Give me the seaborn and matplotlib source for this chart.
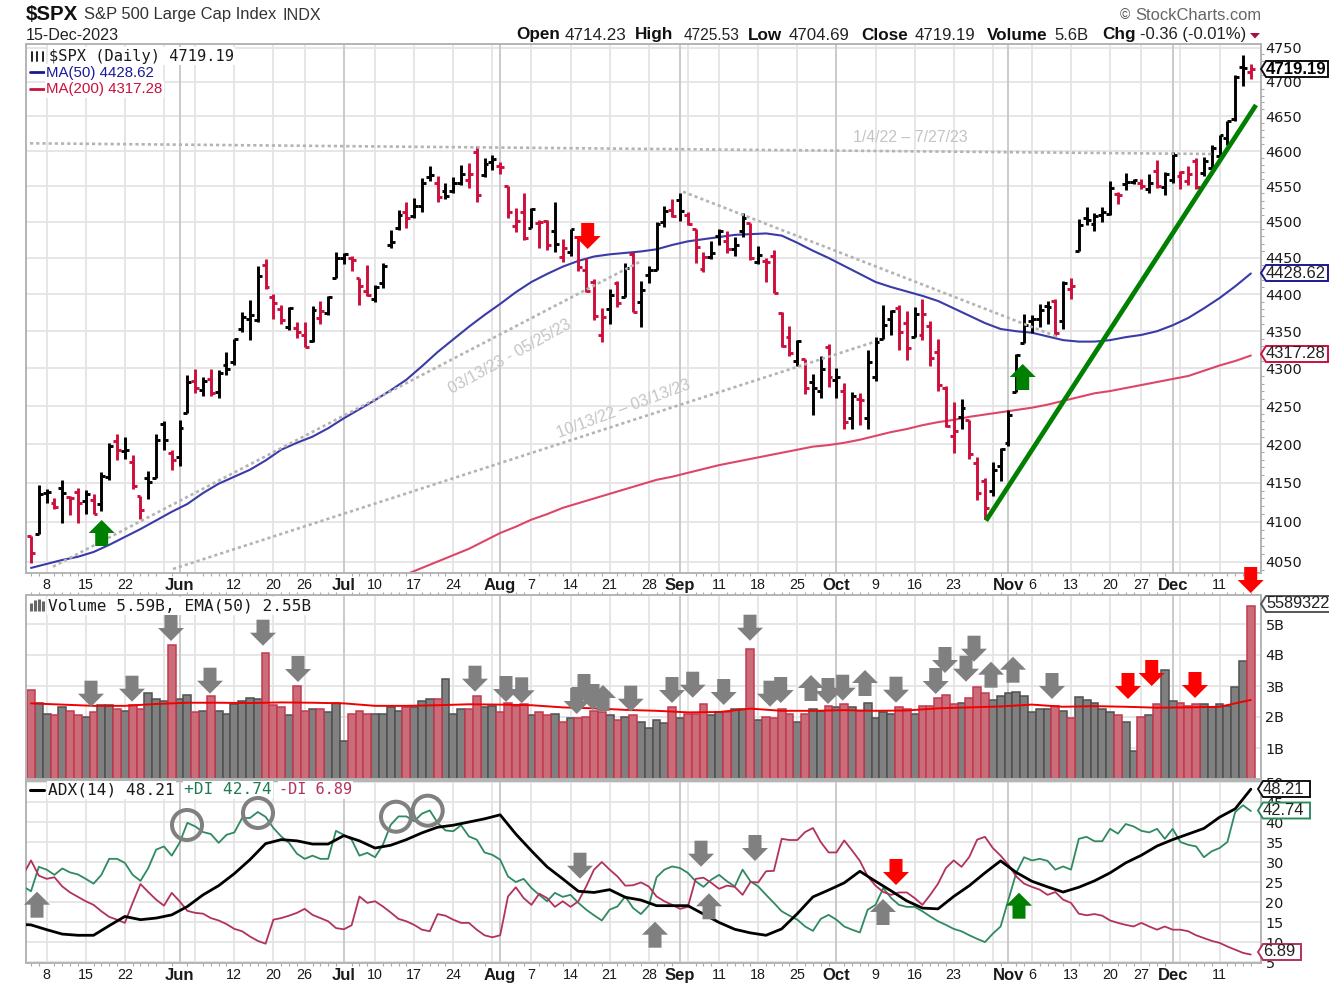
import numpy as np
import pandas as pd
import matplotlib
matplotlib.use("Agg")
import matplotlib.pyplot as plt
from matplotlib.patches import Polygon, Circle
from matplotlib.collections import LineCollection
import seaborn as sns

# ---------------- data ----------------
holidays = ["2023-05-29", "2023-06-19", "2023-07-04", "2023-09-04", "2023-11-23"]
opens = [4082.6,4084.7,4136.9,4124.2,4143.7,4132.2,4138.5,4126.6,4127.9,4122.9,4157.7,4204.1,4190.8,4176.8,4132.9,4155.7,4156.2,4226.7,4188.4,
 4183,4241,4283,4271.3,4285.5,4268.7,4304.9,4308.3,4352.6,4366.3,4365.3,4440,4396.1,4380,4355.4,4354.2,4344.8,4337.4,4367.5,4374.9,4422.4,
 4450.5,4449.9,4422.6,4404.5,4394.2,4415.6,4467.7,4491.5,4514.6,4508.9,4521.8,4563.9,4554.4,4543.4,4543.4,4555.2,4559,4598.3,4565.8,4584.8,
 4578.8,4550.9,4494.3,4514,4491.6,4498,4501.6,4487.2,4450.7,4458.1,4478.9,4433.8,4416.3,4344.9,4380.3,4415.3,4396.4,4455.2,4389.4,4426,4432.8,4500.3,4517,
 4530.6,4510,4490.4,4434.6,4451.3,4481,4473.3,4462.6,4487.8,4498,4445.1,4445.4,4452.8,4374.4,4341.7,4310.6,4312.9,4282.6,4269.7,4328.2,
 4284.5,4269.8,4233.8,4259.3,4234.8,4289,4339.8,4366.6,4380.9,4360.5,4342.4,4345.2,4357.4,4321.4,4273.9,4210.4,4235.8,4232.4,4176,4152.9,4139.4,4171.3,
 4201.3,4268.3,4334.2,4364.3,4366.2,4384.4,4391.4,4364.2,4406.7,4459,4505.3,4497.1,4509.6,4511.7,4538.8,4553,4555.8,4554.9,4545.6,4571.8,4548.4,
 4559.4,4564.4,4557.3,4586.2,4568.8,4576.2,4593.4,4618.3,4646.2,4721,4714.23]
highs = [4082.6,4147,4142.3,4130.4,4154.3,4132.8,4143.7,4141.2,4136,4164.7,4202.2,4212.9,4209.2,4185.7,4132.9,4165.7,4212.9,4231.1,4192,
 4232,4290.7,4299.3,4288.3,4299.2,4298,4322.6,4340.1,4375.4,4391.8,4439.2,4448.5,4400.2,4386.2,4382.2,4362.1,4362.1,4384.4,4390.4,4398.4,4458.5,
 4456.5,4453.4,4422.6,4440.4,4412.6,4443.6,4488.3,4517.4,4528.6,4532.9,4562.3,4578.4,4565,4555,4563.4,4580.6,4582.5,4607.1,4590.2,4594.2,
 4584.6,4550.9,4519.5,4540.3,4519.8,4503.3,4502.4,4527.4,4476.2,4490.3,4478.9,4450,4421.2,4381.8,4407.6,4418.6,4443.2,4458.3,4418.5,4439.6,4500.1,4521.7,4532.3,
 4541.3,4514.3,4490.4,4457.8,4473.5,4490.8,4487.1,4479.4,4512,4498,4466.4,4449.9,4461,4375.7,4357.4,4338.5,4313,4292.1,4317.3,4333.1,
 4300.6,4281.2,4268.5,4267.1,4324.1,4341.7,4385.5,4378.6,4385.9,4377.1,4383.3,4393.6,4364.2,4339.5,4276.6,4255.8,4259.4,4232.4,4183.6,4156.7,4177.5,4195.6,
 4245.6,4319.7,4373.6,4372.2,4386.3,4391.2,4393.4,4418,4421.8,4504.1,4521.2,4512,4521.2,4557.1,4542.1,4568.4,4560.3,4560.5,4568.1,4587.6,4569.9,
 4599.4,4572.4,4578.6,4590.7,4590.9,4609.2,4623.7,4643.9,4709.7,4738.6,4725.53]
lows = [4048.3,4084.7,4123.8,4116.6,4098.9,4109.3,4099.1,4110.3,4109.9,4113.6,4153.5,4180.2,4180.5,4142.5,4104,4129.7,4156.2,4192.2,4167,
 4171.6,4241,4266.8,4263.1,4264,4261.1,4291.7,4304.4,4349.3,4337.9,4362.6,4407.4,4367.2,4360.1,4351.8,4341.3,4328.1,4335,4360.2,4372,4422.4,
 4442.3,4431.4,4385,4397.4,4389.9,4408.5,4463.2,4489.4,4491.1,4504.9,4514.6,4557.5,4527.6,4532.3,4541.3,4552.4,4547.6,4528.6,4563,4573.1,
 4567.5,4505.8,4485.5,4474.5,4491.2,4464.4,4461.3,4457.9,4444,4453.4,4432.2,4403.6,4364.8,4335.3,4360.3,4382.8,4396.4,4375.6,4356.3,4415,4432.8,4493.6,4507.4,
 4501.4,4496,4442.4,4430.5,4448.4,4467.9,4456.8,4453.4,4478.7,4447.2,4442.1,4416.6,4401.4,4329.2,4316.5,4302.7,4266,4238.6,4260.2,4274.9,
 4260.2,4220.6,4220.5,4225.9,4219.6,4283.8,4339.6,4345.3,4325.4,4312,4342.4,4337.5,4303.8,4269.7,4223,4189.2,4219.4,4181.4,4127.9,4103.8,4132.9,4153.1,
 4197.7,4268.3,4334.2,4347.5,4355.4,4359.8,4343.9,4353.3,4393.8,4459,4495.3,4487.8,4499.7,4510.4,4525.5,4545.5,4552.8,4546.3,4540.5,4547.2,4537.2,
 4554.7,4546.7,4551.7,4546.5,4565.2,4574.1,4593.4,4608.1,4643.2,4694.3,4704.69]
closes = [4061.2,4136.3,4138.1,4119.2,4137.6,4130.6,4124.1,4136.3,4109.9,4158.8,4198.1,4192,4192.6,4145.6,4115.2,4151.3,4205.45,4205.52,4179.8,
 4221,4282.4,4273.8,4283.9,4267.5,4293.9,4298.9,4338.9,4369,4372.6,4425.8,4409.6,4388.7,4365.7,4381.9,4348.3,4328.8,4378.4,4376.9,4396.4,4450.4,
 4455.6,4446.8,4411.6,4399,4409.5,4439.3,4472.2,4510,4505.4,4522.8,4555,4565.7,4534.9,4536.3,4554.6,4567.5,4566.8,4537.4,4582.2,4589,
 4576.7,4513.4,4501.9,4478,4518.4,4499.4,4467.7,4468.8,4464,4489.7,4437.9,4404.3,4370.4,4369.7,4399.8,4387.6,4436,4376.3,4405.7,4433.3,4497.6,4514.9,4507.7,
 4515.8,4496.8,4465.5,4451.1,4457.5,4487.5,4461.9,4467.4,4505.1,4450.3,4453.5,4444,4402.2,4330,4320.1,4337.4,4273.5,4274.5,4299.7,4288.05,
 4288.4,4229.5,4263.8,4258.2,4308.5,4335.7,4358.2,4377,4349.6,4327.8,4373.6,4373.2,4314.6,4278,4224.2,4217,4247.7,4186.8,4137.2,4117.4,4166.8,4193.8,
 4237.9,4317.8,4358.3,4366,4378.4,4382.8,4347.4,4415.2,4411.6,4495.7,4502.9,4508.2,4514,4547.4,4538.2,4556.6,4559.3,4550.4,4554.9,4550.6,4567.8,
 4594.6,4569.8,4567.2,4549.3,4585.6,4604.4,4622.4,4643.7,4707.1,4719.55,4719.19]
prev_close = 4090.75

# moving averages, read every second session
ma50 = [4042,4047,4052,4056,4062,4071,4081,4091,4102,4113,4123,4137,4149,4158,4167,4179,4193,4202,4210,4221,
 4234,4246,4258,4271,4285,4303,4322,4339,4356,4372,4387,4403,4417,4428,4438,4446,4452,4455,4457,4459,
 4462,4468,4473,4476,4479,4482,4483,4484,4481,4471,4460,4450,4439,4428,4417,4410,4404,4398,4391,4381,
 4371,4361,4353,4350,4348,4343,4338,4336,4336,4338,4342,4345,4350,4358,4368,4381,4395,4411,4428.62]
ma200 = [np.nan]*24 + [4034,4042,4050,4058,4066,4076,4086,4094,4103,4110,4118,4124,4130,4136,4142,4148,4154,4158,4163,4168,
 4173,4177,4181,4185,4189,4193,4197,4199,4202,4206,4211,4216,4220,4225,4229,4232,4236,4239,4242,4245,
 4248,4252,4257,4262,4267,4270,4274,4278,4282,4286,4290,4297,4304,4310,4317.28]

volume_b = [2.87,2.44,2.10,2.05,2.31,2.20,2.05,2.01,2.16,2.40,2.40,2.26,2.20,2.40,2.26,2.76,2.57,2.51,4.33,2.57,
 2.71,2.16,2.20,2.67,2.20,2.10,2.42,2.51,2.61,2.57,4.08,2.40,2.31,2.05,3.01,2.20,2.26,2.26,2.15,2.44,
 1.24,2.10,2.20,2.10,2.10,2.10,2.31,2.20,2.33,2.33,2.52,2.57,2.57,3.22,2.10,2.26,2.26,2.67,2.31,2.37,
 2.15,2.46,2.37,2.42,2.05,2.15,2.05,2.10,1.85,1.96,1.96,2.00,2.20,2.15,2.05,1.90,2.00,2.05,1.85,1.65,
 1.90,1.80,2.31,1.96,2.10,2.10,2.41,2.05,2.15,2.15,2.26,2.26,4.18,1.90,2.01,1.96,2.26,2.10,1.85,2.10,
 2.26,2.20,2.37,2.31,2.41,2.31,2.20,2.46,1.96,2.16,2.10,2.31,2.26,2.10,2.35,2.35,2.61,2.72,2.42,2.46,
 2.61,2.97,2.76,2.56,2.67,2.76,2.82,2.67,2.15,2.26,2.26,2.35,2.20,1.96,2.66,2.56,2.45,2.26,2.15,2.05,
 1.85,0.89,2.00,2.05,2.41,3.52,2.51,2.46,2.35,2.41,2.41,2.31,2.41,2.35,2.97,3.82,5.59]
ema50_b = [2.44,2.40,2.36,2.36,2.42,2.46,2.46,2.45,2.47,2.46,2.44,2.36,2.36,2.38,2.41,2.40,2.38,2.31,2.28,2.23,
 2.20,2.15,2.16,2.27,2.20,2.20,2.22,2.20,2.21,2.28,2.31,2.34,2.40,2.33,2.35,2.33,2.30,2.31,2.33,2.55]

# session before the first visible bar
plus_di_prior = 23.9
minus_di_prior = 26.8
adx_prior = 14.4
plus_di = [22.7,28.8,28.1,26.8,28.4,27.4,26.9,25.8,24.6,26.8,30.8,30.8,29.8,26.8,25.3,28.5,33.1,33.9,31.6,34.8,
 39.8,38.9,37.5,37.0,34.8,36.8,37.4,41.0,41.0,42.5,41.3,38.5,36.4,34.8,32.1,30.8,31.6,30.8,30.8,37.8,
 36.8,35.6,31.6,32.3,31.2,34.3,39.3,41.4,41.4,40.2,42.1,42.9,39.8,37.9,37.7,39.2,36.4,35.6,32.4,31.8,
 30.6,26.4,25.0,25.8,23.5,21.8,20.2,22.3,21.3,21.8,19.8,18.1,16.7,15.4,18.1,18.9,21.4,18.5,17.0,19.1,
 26.2,28.1,28.9,28.5,27.3,25.2,23.8,25.6,26.8,25.2,23.9,28.1,25.2,23.9,21.8,19.8,17.7,16.6,15.6,13.9,
 12.8,15.8,16.8,15.6,13.9,13.1,12.4,18.1,19.3,23.5,21.0,19.3,18.8,18.8,17.7,16.4,15.2,14.3,13.3,12.7,
 11.7,10.8,10.0,12.1,13.9,20.6,27.3,31.2,30.4,30.8,30.3,28.1,28.9,28.1,35.8,36.3,35.2,35.2,38.3,37.1,
 39.5,38.9,37.8,37.4,38.3,35.8,38.3,35.0,34.3,33.9,31.2,32.7,33.5,35.0,42.5,44.2,42.74]
minus_di = [30.4,26.6,25.8,26.2,23.9,22.4,21.3,20.2,19.3,17.7,16.3,15.6,14.8,19.8,24.5,22.5,20.6,19.1,22.3,20.2,
 17.8,17.3,17.1,16.0,15.4,14.5,13.3,12.7,11.4,10.3,9.6,15.6,16.0,16.6,17.3,18.3,16.8,16.0,15.2,13.5,
 13.2,14.2,21.4,19.8,20.2,18.9,17.4,15.8,15.2,14.3,13.1,12.7,17.0,16.6,15.6,14.8,14.8,13.1,11.7,11.2,
 11.7,21.4,23.7,21.0,19.3,22.1,21.0,18.8,20.2,18.8,20.2,23.9,28.1,30.0,28.1,26.4,24.1,24.2,24.9,23.9,
 21.4,20.2,19.3,18.3,18.8,25.8,26.1,24.8,23.3,24.1,23.8,21.8,25.0,24.9,27.7,27.8,35.8,35.5,35.5,37.5,
 38.5,35.0,32.4,32.4,35.4,32.9,30.3,26.4,24.1,22.5,21.8,22.4,22.4,21.0,19.3,21.8,24.6,28.5,30.4,28.8,
 31.3,35.6,36.3,33.5,31.6,29.3,26.4,24.6,23.8,23.1,21.8,22.5,20.6,19.8,17.1,16.7,17.0,16.6,15.4,14.8,
 14.3,13.9,14.8,13.9,13.1,13.9,13.1,13.1,12.7,11.7,11.0,10.3,9.8,8.9,8.1,7.3,6.89]
# ADX, read every second session
adx = [14.3,13.1,12.0,11.7,11.7,14.1,16.4,15.6,16.0,16.8,18.9,21.8,24.1,27.1,30.6,34.6,35.6,35.3,34.5,34.5,
 36.6,35.3,33.5,34.2,35.6,37.3,38.7,39.2,40.0,40.8,41.8,37.0,32.8,28.8,25.8,22.7,22.4,23.1,21.2,20.5,
 19.1,19.1,19.1,17.0,14.9,13.2,12.3,11.7,13.3,17.1,21.3,23.0,24.8,27.7,25.2,22.8,20.3,18.5,18.3,21.4,
 24.1,27.3,30.3,27.4,25.2,23.8,22.5,23.7,25.3,27.3,29.8,31.7,34.0,35.6,37.0,38.4,41.2,43.3,48.21]

price_ticks = [4050,4100,4150,4200,4250,4300,4350,4400,4450,4500,4550,4600,4650,4700,4750]
volume_ticks = [1,2,3,4,5]
volume_labels = ["1B","2B","3B","4B","5B"]
adx_ticks = [5,10,15,20,25,30,35,40,45,50]
labelled_days = {"2023-05-08":"8","2023-05-15":"15","2023-05-22":"22","2023-06-12":"12","2023-06-20":"20","2023-06-26":"26",
 "2023-07-10":"10","2023-07-17":"17","2023-07-24":"24","2023-08-07":"7","2023-08-14":"14","2023-08-21":"21","2023-08-28":"28",
 "2023-09-11":"11","2023-09-18":"18","2023-09-25":"25","2023-10-09":"9","2023-10-16":"16","2023-10-23":"23",
 "2023-11-06":"6","2023-11-13":"13","2023-11-20":"20","2023-11-27":"27","2023-12-11":"11"}

# ---------------- build ----------------
sns.set_theme(style="white")
plt.rcParams['font.family'] = ['Liberation Sans', 'DejaVu Sans']

days = pd.bdate_range("2023-05-04", "2023-12-15")
days = days[~days.isin(pd.to_datetime(holidays))]
idx = np.arange(len(days))
for arr in (opens, highs, lows, closes, volume_b, plus_di, minus_di):
    assert len(arr) == len(days), len(arr)
o, h, l, c = map(np.array, (opens, highs, lows, closes))
down = c < np.r_[prev_close, c[:-1]]

W, H = 1329, 990
fig = plt.figure(figsize=(W/100, H/100), dpi=100, facecolor="white")
def add_ax(top, bottom, left=26, right=1261):
    return fig.add_axes([left/W, 1-bottom/H, (right-left)/W, (bottom-top)/H])
ax_p = add_ax(44.3, 572.7)
ax_v = add_ax(595, 779)
ax_a = add_ax(781, 963.3)

GRID = "#e4e4e4"; MONTH = "#cbcbcb"; FRAME = "#b4b4b4"
BLACK = "#000000"; RED = "#cc0f3c"
# gridline sessions: first session of every week and of every month
weeks = pd.Series(idx, index=days).groupby([days.isocalendar().week.values]).first().values
months = pd.Series(idx, index=days).groupby(days.month.values).first().values[1:]
grid_ix = sorted(set(weeks[1:]) | set(months))

def labels_for():
    out = []
    for i in grid_ix:
        d = days[i]
        if i in months:
            out.append(d.strftime("%b"))
        else:
            out.append(labelled_days.get(d.strftime("%Y-%m-%d"), ""))
    return out

for ax in (ax_p, ax_v, ax_a):
    ax.set_xlim(-0.64, 157.3)
    ax.set_axisbelow(True)
    ax.set_xticks(grid_ix)
    ax.set_xticks(idx, minor=True)
    ax.tick_params(axis="x", which="major", length=0, pad=3.6)
    ax.tick_params(axis="x", which="minor", length=2.2, width=0.8, color="#a8a8a8", bottom=True, top=ax is ax_v)
    ax.xaxis.grid(True, which="major", color=GRID, lw=1.3)
    ax.yaxis.grid(True, which="major", color=GRID, lw=1.3)
    for m in months:
        ax.axvline(m, color=MONTH, lw=1.4, zorder=0.9)
    for s in ax.spines.values():
        s.set_color(FRAME); s.set_linewidth(1.4)
    ax.yaxis.tick_right()
    ax.tick_params(axis="y", which="major", length=0, pad=3.2, labelsize=10.4, labelfontfamily="DejaVu Sans", labelcolor="#1a1a1a")
    ax.set_xlabel(""); ax.set_ylabel("")
    if ax is ax_v:
        ax.set_xticklabels([])
    else:
        ax.set_xticklabels(labels_for(), fontsize=10.3, color="#1a1a1a")
        for t, i in zip(ax.get_xticklabels(), grid_ix):
            if i in months:
                t.set_fontweight("bold"); t.set_fontsize(12)

# price panel
ax_p.set_yscale("log")
ax_p.set_ylim(4036, 4755)
ax_p.set_yticks(price_ticks)
ax_p.set_yticklabels([str(t) for t in price_ticks])
ax_p.yaxis.set_minor_locator(matplotlib.ticker.FixedLocator(np.arange(4040, 4755, 10)))
ax_p.yaxis.set_minor_formatter(matplotlib.ticker.NullFormatter())
ax_p.tick_params(axis="y", which="minor", length=1.8, width=0.8, color="#a8a8a8", right=True, left=False)

df_ma = pd.DataFrame({"i": idx[::2], "ma50": ma50, "ma200": ma200})
sns.lineplot(data=df_ma, x="i", y="ma50", ax=ax_p, color="#3a3aa8", lw=1.5, errorbar=None, legend=False)
sns.lineplot(data=df_ma.dropna(), x="i", y="ma200", ax=ax_p, color="#de4668", lw=1.5, errorbar=None, legend=False)
ax_p.set_xlabel(""); ax_p.set_ylabel("")

colors = [RED if d else BLACK for d in down]
segs = []
seg_c = []
hw = 0.5
for i in idx:
    segs += [[(i, l[i]), (i, h[i])], [(i-hw, o[i]), (i, o[i])], [(i, c[i]), (i+hw, c[i])]]
    seg_c += [colors[i]]*3
ax_p.add_collection(LineCollection(segs, colors=seg_c, linewidths=2.1, capstyle="butt", zorder=3))

# volume panel
ax_v.set_ylim(0, (779-595)/31)
ax_v.set_yticks(volume_ticks)
ax_v.set_yticklabels(volume_labels)
vol = np.array(volume_b)
sns.barplot(x=idx[~down], y=vol[~down], native_scale=True, color="#808080", saturation=1, edgecolor="#505050",
            linewidth=1.1, width=1.0, ax=ax_v, zorder=2)
sns.barplot(x=idx[down], y=vol[down], native_scale=True, color="#cb6d79", saturation=1, edgecolor="#c23a50",
            linewidth=1.1, width=1.0, ax=ax_v, zorder=2)
ax_v.set_xlim(-0.64, 157.3)
ax_v.set_ylim(0, (779-595)/31)
ax_v.yaxis.tick_right()
sns.lineplot(x=idx[::4], y=ema50_b, ax=ax_v, color="#f00000", lw=1.4, errorbar=None, legend=False, zorder=4)
ax_v.set_xlabel(""); ax_v.set_ylabel("")
ax_v.set_xticks(grid_ix); ax_v.set_xticklabels([])

# ADX panel
ax_a.set_ylim(4.7, 50.25)
ax_a.set_yticks(adx_ticks)
ax_a.set_yticklabels([str(t) for t in adx_ticks])
xa = np.r_[-1, idx]
sns.lineplot(x=xa, y=[plus_di_prior]+plus_di, ax=ax_a, color="#2f8a60", lw=1.3, errorbar=None, legend=False, zorder=3)
sns.lineplot(x=xa, y=[minus_di_prior]+minus_di, ax=ax_a, color="#b2325f", lw=1.3, errorbar=None, legend=False, zorder=3)
sns.lineplot(x=np.r_[-1, idx[::2]], y=[adx_prior]+adx, ax=ax_a, color="#000000", lw=2.0, errorbar=None, legend=False, zorder=4)
ax_a.set_xlabel(""); ax_a.set_ylabel("")
ax_a.set_xlim(-0.64, 157.3)
ax_a.set_xticks(grid_ix)

# ---------------- overlay in figure pixels ----------------
ov = fig.add_axes([0, 0, 1, 1], zorder=10)
ov.set_xlim(0, W); ov.set_ylim(H, 0); ov.axis("off"); ov.patch.set_alpha(0)

def T(x, y, s, size=11.5, color="#222222", weight="normal", ha="left", family=None, rot=0, box=False, **kw):
    fam = family if family else ['Liberation Sans', 'DejaVu Sans']
    extra = {}
    if box:
        extra["bbox"] = dict(fc="white", ec="none", pad=1)
    return ov.text(x, y, s, fontsize=size, color=color, fontweight=weight, ha=ha, va="center",
                   family=fam, rotation=rot, rotation_mode="anchor", **extra, **kw)

GRAY_A = "#808080"; RED_A = "#ff0000"; GREEN_A = "#008000"
def down_arrow(cx, tip, col=GRAY_A):
    ov.add_patch(Polygon([(cx-6.5, tip-26), (cx+6.5, tip-26), (cx+6.5, tip-13), (cx+13, tip-13), (cx, tip), (cx-13, tip-13), (cx-6.5, tip-13)],
                         fc=col, ec="none", zorder=6))
def up_arrow(cx, top, col=GRAY_A):
    ov.add_patch(Polygon([(cx-6.5, top+26), (cx+6.5, top+26), (cx+6.5, top+13), (cx+13, top+13), (cx, top), (cx-13, top+13), (cx-6.5, top+13)],
                         fc=col, ec="none", zorder=6))

# trend lines
dot = dict(color="#b4b4b4", lw=1.9, ls=(0, (1.2, 1.15)), zorder=2.5)
ov.plot([30, 1212], [143.3, 154], **dot)
ov.plot([53, 640], [566.7, 261.7], **dot)
ov.plot([173, 875], [569, 341.7], **dot)
ov.plot([683, 1057], [191.7, 336.7], **dot)
ov.plot([986, 1256], [520.7, 105], color="#008000", lw=3.4, solid_capstyle="butt", zorder=5)
T(853, 137, "1/4/22 – 7/27/23", size=11.4, color="#c4c4c4")
T(450, 390, "03/13/23 - 05/25/23", size=11.4, color="#c4c4c4", rot=29)
T(557, 434, "10/13/22 – 03/13/23", size=11.4, color="#c4c4c4", rot=20.5)

# arrows
up_arrow(101.7, 520, GREEN_A); down_arrow(587.7, 249, RED_A); up_arrow(1022.7, 364, GREEN_A)
for cx, tip in [(91,706.7),(132,701.7),(171,641),(210,693.7),(263,645.7),(298,682),(475,691.7),(506,702),(521.7,703.3),
                (576.7,714),(584,700),(593,710),(630.7,711.7),(672,703),(692.7,697.7),(723.7,705),(750,640.7),(770,706.7),
                (780.7,703),(828,704),(842.7,700.7),(896,702.7),(935.7,694),(945,673),(966,681.7),(974,661.7),(1052,699)]:
    down_arrow(cx, tip)
for cx, top in [(603,685),(811,675),(865,670),(991,661.7),(1013,656.7)]:
    up_arrow(cx, top)
for cx, tip in [(1128,699),(1151.7,686),(1195,698),(1250.7,593)]:
    down_arrow(cx, tip, RED_A)
up_arrow(37, 891.7)
for cx, tip in [(580,878.7),(701,866.7),(755,861)]:
    down_arrow(cx, tip)
for cx, top in [(655,921.7),(709,893.3),(883,899)]:
    up_arrow(cx, top)
down_arrow(896, 885, RED_A); up_arrow(1019, 892.7, GREEN_A)
for cx, cy in [(187,825),(258,813),(396,816.7),(427.7,810.7)]:
    ov.add_patch(Circle((cx, cy), 15, fc="none", ec="#808080", lw=2.9, zorder=6))

# headers
T(26, 14, "$SPX", size=14.8, color="#111111", weight="bold")
T(84, 15, "S&P 500 Large Cap Index", size=11.9, color="#333333")
T(283, 15, "INDX", size=11.6, color="#333333")
T(26, 35, "15-Dec-2023", size=11.6, color="#222222")
label_w = {"Open":45,"High":45,"Low":37,"Close":50,"Volume":63,"Chg":34}
for x, lab, val, vs in [(516,"Open","4714.23",12.3),(635,"High","4725.53",11.2),(748,"Low","4704.69",12.2),(861,"Close","4719.19",12.2),(987,"Volume","5.6B",12.0),(1102,"Chg","-0.36 (-0.01%)",12.0)]:
    T(x, 35, lab, size=12.3, color="#111111", weight="bold")
    T(x+label_w[lab]+4, 35, val, size=vs, color="#222222")
ov.add_patch(Polygon([(1250, 33), (1260, 33), (1255, 38.5)], fc="#a8103c", ec="none"))
T(1120, 15, "©", size=10, color="#555555")
T(1135, 15, "StockCharts.com", size=11.9, color="#666666")

# legends
mono = ['DejaVu Sans Mono']
ov.plot([31.5, 31.5], [52, 61], color="#222222", lw=1.4)
ov.plot([37, 37], [52, 61], color="#222222", lw=1.4)
ov.plot([42.5, 42.5], [52, 61], color="#222222", lw=1.4)
T(49, 56, "$SPX (Daily) 4719.19", size=11.05, color="#1a1a1a", family=mono, box=True)
ov.plot([30, 44], [72, 72], color="#1a1a8c", lw=2.0)
T(46, 72.5, "MA(50) 4428.62", size=10.8, color="#1a1a9c", box=True)
ov.plot([30, 44], [89, 89], color="#cc0f3c", lw=2.0)
T(46, 89.5, "MA(200) 4317.28", size=10.8, color="#cc0f3c", box=True)
for x, b, tp in [(31,611,603),(35,611,600),(39,611,599),(43,611,601)]:
    ov.plot([x, x], [b, tp], color="#666666", lw=2.2, solid_capstyle="butt")
T(48, 606, "Volume 5.59B, EMA(50) 2.55B", size=11.6, color="#1a1a1a", family=mono, box=True)
ov.plot([30, 44], [790, 790], color="#000000", lw=2.2)
T(48, 790, "ADX(14) 48.21", size=11.6, color="#1a1a1a", family=mono, box=True)
T(184, 790, "+DI 42.74", size=11.6, color="#1e7a50", family=mono, box=True)
T(279, 790, "-DI 6.89", size=11.0, color="#b2325f", family=mono, box=True)

# value flags
def flag(yc, txt, ec, x0=1261, x1=1328, weight="normal", tc="#222222", hh=8, size=11.9):
    ov.add_patch(Polygon([(x0, yc), (x0+5, yc-hh), (x1, yc-hh), (x1, yc+hh), (x0+5, yc+hh)], fc="white", ec=ec, lw=1.4, zorder=7, clip_on=False))
    T(x0+5, yc, txt, size=size, color=tc, weight=weight, zorder=8)
flag(69, "4719.19", "#111111", weight="bold", size=12.1, tc="#000000")
flag(273, "4428.62", "#1a1a8c")
flag(354, "4317.28", "#cc0f3c")
flag(604, "5589322", "#555555", x1=1335, size=11.7)
flag(789, "48.21", "#111111", x0=1258, x1=1310)
flag(810.5, "42.74", "#2f8a60", x0=1258, x1=1310)
flag(952, "6.89", "#b2325f", x0=1258, x1=1301)

fig.savefig("out.png", dpi=100, facecolor="white")
